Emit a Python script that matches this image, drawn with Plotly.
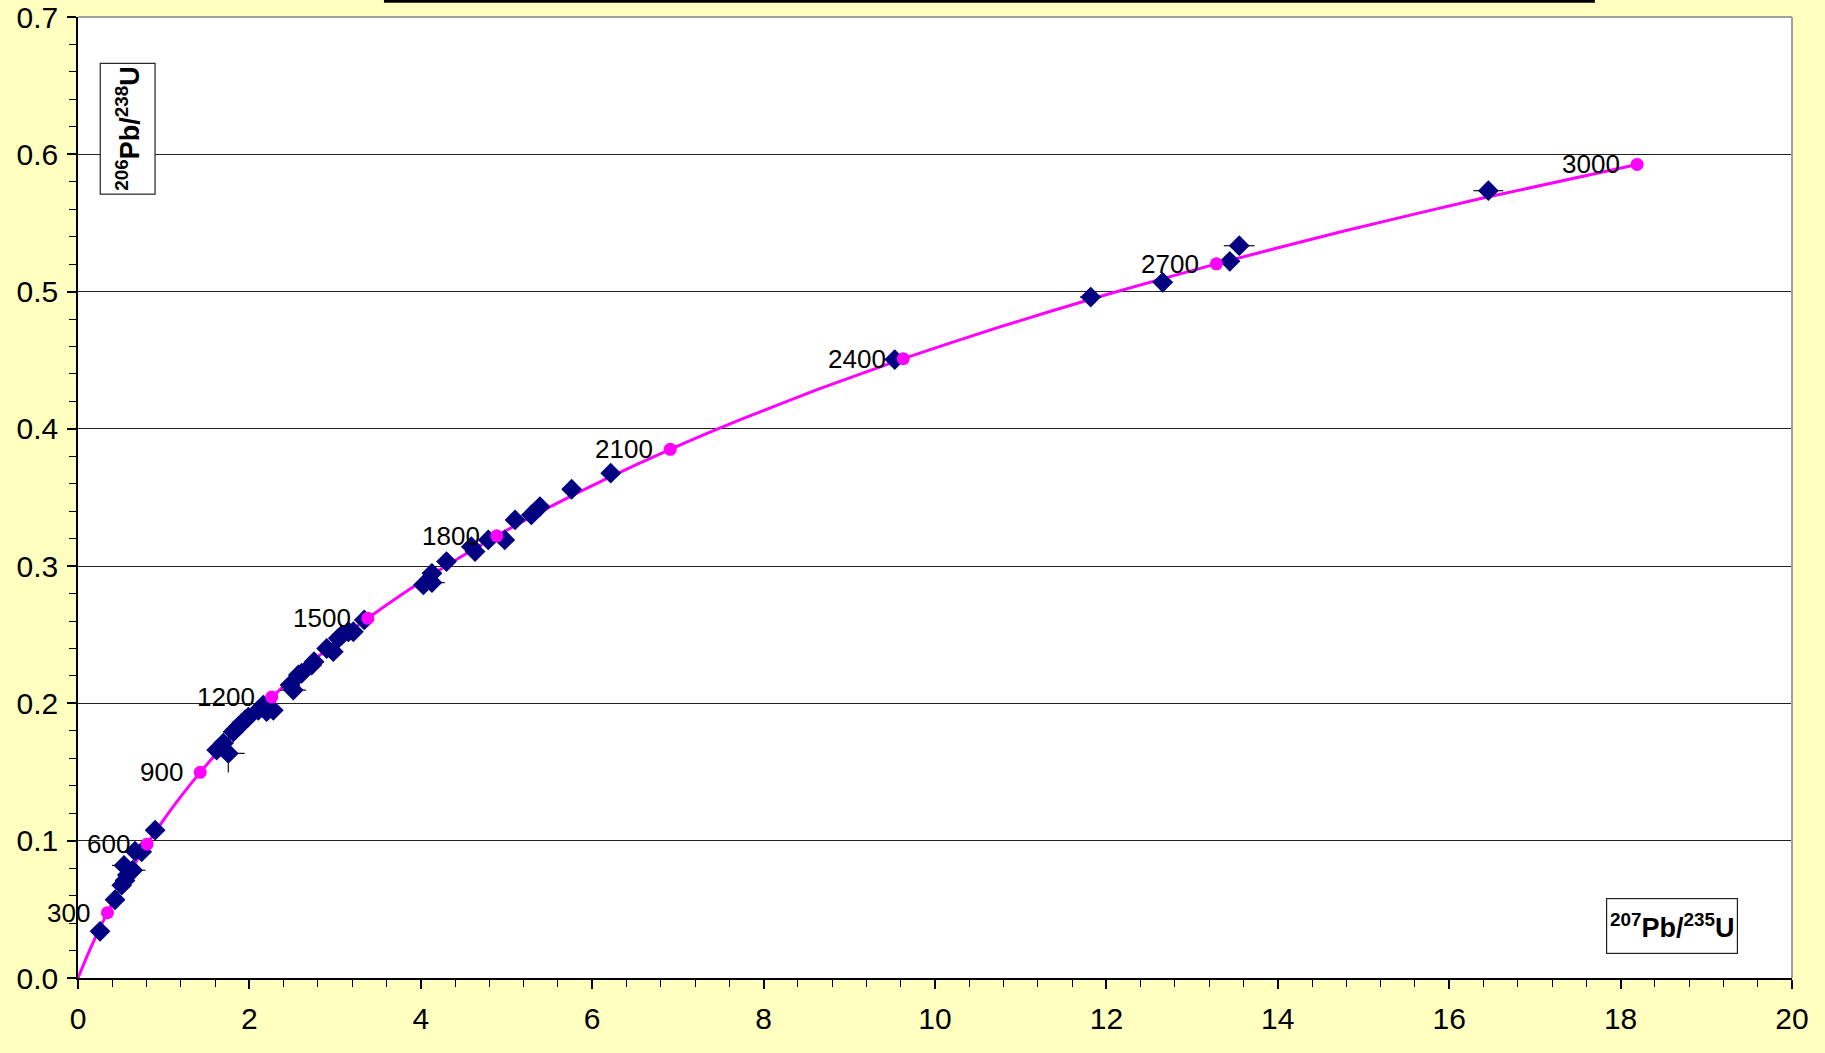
import plotly.graph_objects as go

# Concordia curve sampled every 100 Ma (0 - 3000 Ma)
CONCORDIA_AGE_MA = [0, 100, 200, 300, 400, 500, 600, 700, 800, 900, 1000,
                    1100, 1200, 1300, 1400, 1500, 1600, 1700, 1800, 1900, 2000,
                    2100, 2200, 2300, 2400, 2500, 2600, 2700, 2800, 2900, 3000]
CONCORDIA_PB207_U235 = [0.0, 0.1035, 0.2177, 0.3437, 0.4828, 0.6363, 0.8056,
                        0.9925, 1.1987, 1.4263, 1.6774, 1.9545, 2.2603, 2.5977,
                        2.9701, 3.3810, 3.8344, 4.3348, 4.8869, 5.4962, 6.1685,
                        6.9105, 7.7292, 8.6326, 9.6296, 10.7297, 11.9437,
                        13.2834, 14.7617, 16.3929, 18.1931]
CONCORDIA_PB206_U238 = [0.0, 0.0156, 0.0315, 0.0476, 0.0640, 0.0807, 0.0975,
                        0.1147, 0.1321, 0.1498, 0.1678, 0.1861, 0.2046, 0.2234,
                        0.2426, 0.2620, 0.2817, 0.3017, 0.3221, 0.3428, 0.3638,
                        0.3851, 0.4067, 0.4287, 0.4511, 0.4737, 0.4968, 0.5202,
                        0.5439, 0.5681, 0.5926]

# Ages marked and labelled on the curve
LABELLED_AGES = [300, 600, 900, 1200, 1500, 1800, 2100, 2400, 2700, 3000]

# Zircon analyses: isotope ratios with 1-sigma errors
ZIRCON_PB207_U235 = [0.257, 0.432, 0.510, 0.548, 0.576, 0.537, 0.638, 0.665, 0.743, 0.900,
                     1.618, 1.696, 1.754, 1.812, 1.832, 1.871, 1.910, 1.949, 1.987,
                     2.104, 2.162, 2.201, 2.279, 2.474, 2.512, 2.571, 2.610, 2.727, 2.754,
                     2.902, 2.979, 3.037, 3.077, 3.155, 3.213, 3.340,
                     4.030, 4.130, 4.130, 4.300, 4.590, 4.633, 4.787, 4.980, 5.100,
                     5.290, 5.390, 5.760, 6.216,
                     9.530, 11.817, 12.657, 13.440, 13.550, 16.457]
ZIRCON_PB206_U238 = [0.0340, 0.0570, 0.0676, 0.0710, 0.0750, 0.0820, 0.0785, 0.0924, 0.0919, 0.1077,
                     0.1660, 0.1710, 0.1636, 0.1793, 0.1806, 0.1830, 0.1855, 0.1880, 0.1900,
                     0.1950, 0.1988, 0.1940, 0.1950, 0.2134, 0.2097, 0.2207, 0.2220, 0.2280, 0.2304,
                     0.2400, 0.2377, 0.2474, 0.2498, 0.2522, 0.2522, 0.2608,
                     0.2863, 0.2880, 0.2948, 0.3033, 0.3142, 0.3106, 0.3191, 0.3191, 0.3337,
                     0.3373, 0.3434, 0.3560, 0.3677,
                     0.4505, 0.4960, 0.5067, 0.5220, 0.5334, 0.5735]
ZIRCON_ERR_X = [0.03, 0.03, 0.03, 0.03, 0.03, 0.14, 0.15, 0.03, 0.03, 0.04,
                0.05, 0.05, 0.19, 0.12, 0.05, 0.05, 0.05, 0.05, 0.05,
                0.05, 0.05, 0.05, 0.05, 0.06, 0.15, 0.06, 0.06, 0.06, 0.06,
                0.06, 0.06, 0.06, 0.06, 0.06, 0.06, 0.06,
                0.08, 0.15, 0.08, 0.08, 0.08, 0.08, 0.08, 0.08, 0.08,
                0.08, 0.08, 0.08, 0.08,
                0.10, 0.125, 0.117, 0.12, 0.18, 0.175]
ZIRCON_ERR_Y = [0.002, 0.002, 0.002, 0.002, 0.002, 0.002, 0.002, 0.002, 0.002, 0.002,
                0.003, 0.003, 0.014, 0.008, 0.003, 0.003, 0.003, 0.003, 0.003,
                0.003, 0.003, 0.003, 0.003, 0.003, 0.003, 0.003, 0.003, 0.003, 0.003,
                0.003, 0.003, 0.003, 0.003, 0.003, 0.003, 0.003,
                0.003, 0.003, 0.003, 0.003, 0.003, 0.003, 0.003, 0.003, 0.003,
                0.003, 0.003, 0.003, 0.003,
                0.003, 0.004, 0.004, 0.004, 0.0055, 0.0057]

X_TICKS = [0, 2, 4, 6, 8, 10, 12, 14, 16, 18, 20]
Y_TICKS = [0.0, 0.1, 0.2, 0.3, 0.4, 0.5, 0.6, 0.7]

FONT = "Liberation Sans, Arial, sans-serif"
MAGENTA = "#FF00FF"
NAVY = "#000080"

marker_idx = [CONCORDIA_AGE_MA.index(a) for a in LABELLED_AGES]
marker_x = [CONCORDIA_PB207_U235[i] for i in marker_idx]
marker_y = [CONCORDIA_PB206_U238[i] for i in marker_idx]

fig = go.Figure()

# concordia line
fig.add_trace(go.Scatter(
    x=CONCORDIA_PB207_U235, y=CONCORDIA_PB206_U238,
    mode="lines", line=dict(color=MAGENTA, width=3, shape="spline", smoothing=0.6),
    hoverinfo="skip", showlegend=False,
))

# zircon analyses with error crosses
fig.add_trace(go.Scatter(
    x=ZIRCON_PB207_U235, y=ZIRCON_PB206_U238,
    mode="markers",
    marker=dict(symbol="diamond", size=16, color=NAVY, line=dict(width=0)),
    error_x=dict(type="data", array=ZIRCON_ERR_X, color="#111111", thickness=1.2, width=0),
    error_y=dict(type="data", array=ZIRCON_ERR_Y, color="#111111", thickness=1.2, width=0),
    showlegend=False,
))

# age ticks on the concordia
fig.add_trace(go.Scatter(
    x=marker_x, y=marker_y,
    mode="markers",
    marker=dict(symbol="circle", size=13, color=MAGENTA),
    showlegend=False,
))

# age labels, right-aligned just left of each tick
for age, ax, ay in zip(LABELLED_AGES, marker_x, marker_y):
    fig.add_annotation(
        x=ax, y=ay, text=str(age), showarrow=False,
        xanchor="right", yanchor="middle", xshift=-15,
        font=dict(family=FONT, size=26, color="black"),
    )

fig.update_layout(
    width=1825, height=1053,
    margin=dict(l=78, r=33, t=17, b=75, pad=0, autoexpand=False),
    paper_bgcolor="#FFFFC0",
    plot_bgcolor="white",
    font=dict(family=FONT, size=30, color="black"),
    showlegend=False,
)

fig.update_xaxes(
    range=[0, 20], tickvals=X_TICKS, ticktext=[str(v) for v in X_TICKS],
    showgrid=False, zeroline=False, automargin=False,
    showline=True, linecolor="black", linewidth=1.5,
    ticks="outside", ticklen=9, tickwidth=1.5, tickcolor="black",
    ticklabelstandoff=4, ticklabeloverflow="allow",
    tickfont=dict(family=FONT, size=30, color="black"),
    minor=dict(dtick=0.4, ticks="outside", ticklen=7, tickwidth=1.2,
               tickcolor="black", showgrid=False),
)
fig.update_yaxes(
    range=[0, 0.7], tickvals=Y_TICKS, ticktext=[f"{v:.1f}" for v in Y_TICKS],
    showgrid=True, gridcolor="#222222", gridwidth=1.2, zeroline=False, automargin=False,
    showline=True, linecolor="black", linewidth=1.5,
    ticks="outside", ticklen=9, tickwidth=1.5, tickcolor="black",
    ticklabelstandoff=3, ticklabeloverflow="allow",
    tickfont=dict(family=FONT, size=30, color="black"),
    minor=dict(dtick=0.02, ticks="outside", ticklen=7, tickwidth=1.2,
               tickcolor="black", showgrid=False),
)

# plot frame (top and right) and the lower edge of the title box
fig.add_shape(type="line", xref="paper", yref="paper", x0=0, x1=1, y0=1, y1=1,
              line=dict(color="#A0A0A0", width=2))
fig.add_shape(type="line", xref="paper", yref="paper", x0=1, x1=1, y0=0, y1=1,
              line=dict(color="#A0A0A0", width=2))
fig.add_shape(type="line", xref="paper", yref="paper", x0=0.1785, x1=0.885,
              y0=1.0163, y1=1.0163, line=dict(color="black", width=3))

# axis titles in boxes
fig.add_annotation(
    xref="paper", yref="paper", x=0.029, y=0.8834,
    text="<b><sup>206</sup>Pb/<sup>238</sup>U</b>", textangle=-90, showarrow=False,
    font=dict(family=FONT, size=27, color="black"),
    width=128, height=52,
    bgcolor="white", bordercolor="#222222", borderwidth=1.2, borderpad=1,
    xanchor="center", yanchor="middle",
)
fig.add_annotation(
    xref="paper", yref="paper", x=0.930, y=0.054,
    text="<b><sup>207</sup>Pb/<sup>235</sup>U</b>", showarrow=False,
    font=dict(family=FONT, size=27, color="black"),
    width=128, height=52,
    bgcolor="white", bordercolor="#222222", borderwidth=1.2, borderpad=1,
    xanchor="center", yanchor="middle",
)

fig.write_html("out.html")
